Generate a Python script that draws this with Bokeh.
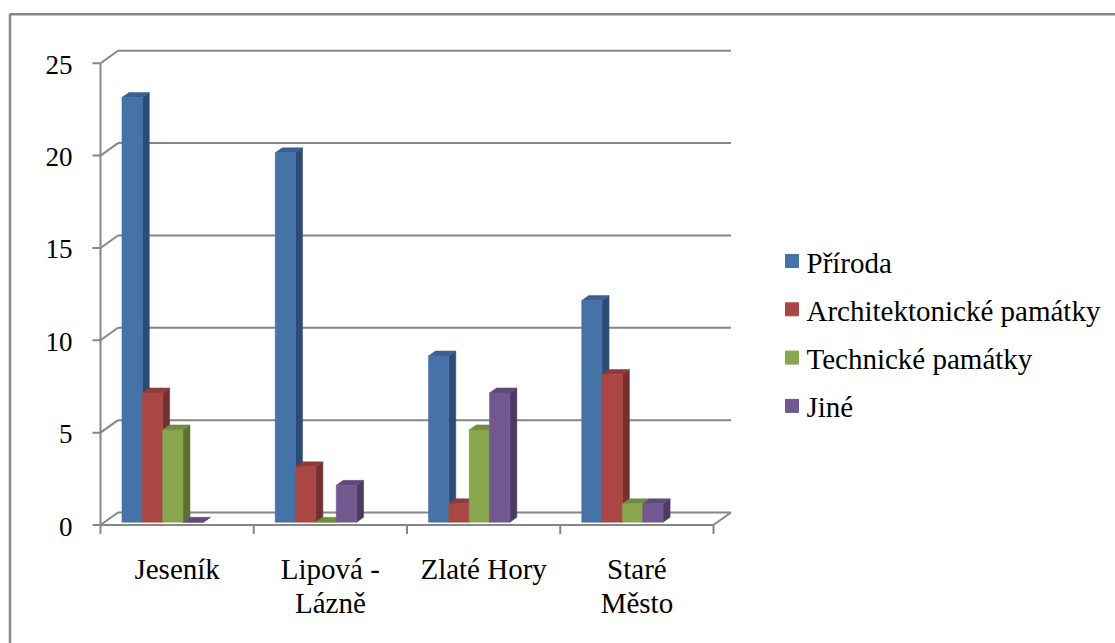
from bokeh.plotting import figure
from bokeh.models import Range1d, ColumnDataSource
from bokeh.core.properties import value
from bokeh.embed import file_html
from bokeh.resources import INLINE

# ---------------- data ----------------
categories = ["Jeseník", "Lipová -\nLázně", "Zlaté Hory", "Staré\nMěsto"]
series_names = ["Příroda", "Architektonické památky", "Technické památky", "Jiné"]
priroda = [23, 20, 9, 12]
architektonicke = [7, 3, 1, 8]
technicke = [5, 0, 5, 1]
jine = [0, 2, 7, 1]
y_ticks = [0, 5, 10, 15, 20, 25]
y_tick_labels = ["0", "5", "10", "15", "20", "25"]

series_values = [priroda, architektonicke, technicke, jine]

# ---------------- styles ----------------
front_colors = ["#4572A7", "#AA4643", "#89A54E", "#71588F"]
side_colors = ["#2D4C74", "#74302E", "#5C7034", "#4C3B61"]
top_colors = ["#3A6090", "#8F3B39", "#728A42", "#5F4A79"]
GRID = "#868686"
FONT = "Liberation Serif"

W, H = 1115, 643
PAGE = 0                 # observed page offset
SX = 153.25              # px per category unit
SY = 18.47               # px per value unit
AX_X = 100               # page x of front value axis
AX_Y = 524.5             # page y of value 0 (front)


def dx(px):
    return px / SX


def dy(px):
    return px / SY


DEPTH_X = dx(17.5)
DEPTH_Y = dy(12.5)


def proj(x, y, d):
    return x + d * DEPTH_X, y + d * DEPTH_Y


n_cat = len(categories)
y_max = y_ticks[-1]

p = figure(width=W, height=H, output_backend="svg", toolbar_location=None,
           x_axis_location=None, y_axis_location=None, min_border=0,
           x_range=Range1d((PAGE - AX_X) / SX, (PAGE + W - AX_X) / SX),
           y_range=Range1d((AX_Y - (PAGE + H)) / SY, (AX_Y - PAGE) / SY))
p.grid.visible = False
p.outline_line_color = None
p.background_fill_color = "white"
p.border_fill_color = "white"

# outer chart border (left and top visible)
bl = (9.5 - AX_X) / SX
bt = (AX_Y - 13.7) / SY
p.line([bl, bl, p.x_range.end + 1], [p.y_range.start - 1, bt, bt],
       line_color=GRID, line_width=2.5)

# ---------------- walls / gridlines ----------------
gx0, gx1, gy0, gy1 = [], [], [], []
for t in y_ticks:
    a = proj(0, t, 1)
    b = proj(n_cat, t, 1)
    gx0.append(a[0]); gy0.append(a[1]); gx1.append(b[0]); gy1.append(b[1])
    c = proj(0, t, 0)
    gx0.append(c[0]); gy0.append(c[1]); gx1.append(a[0]); gy1.append(a[1])
    gx0.append(-dx(8)); gy0.append(t); gx1.append(0); gy1.append(t)
gx0.append(0); gy0.append(0); gx1.append(0); gy1.append(y_max)
gx0.append(0); gy0.append(0); gx1.append(n_cat); gy1.append(0)
r = proj(n_cat, 0, 1)
gx0.append(n_cat); gy0.append(0); gx1.append(r[0]); gy1.append(r[1])
for i in range(n_cat + 1):
    gx0.append(i); gy0.append(0); gx1.append(i); gy1.append(-dy(9))
p.segment(gx0, gy0, gx1, gy1, line_color=GRID, line_width=2)

# ---------------- 3D bars ----------------
D0, D1 = 0.22, 0.62
OFF = dx(17.6)
BW = dx(20.35)

front = dict(left=[], right=[], bottom=[], top=[], color=[])
sides = dict(xs=[], ys=[], color=[])
tops = dict(xs=[], ys=[], color=[])
for i in range(n_cat):
    for s, vals in enumerate(series_values):
        v = vals[i]
        xl = i + OFF + s * BW
        xr = xl + BW
        fl = proj(xl, 0, D0)
        fr = proj(xr, v, D0)
        front["left"].append(fl[0]); front["right"].append(fr[0])
        front["bottom"].append(fl[1]); front["top"].append(fr[1])
        front["color"].append(front_colors[s])
        pts = [proj(xr, 0, D0), proj(xr, 0, D1), proj(xr, v, D1), proj(xr, v, D0)]
        sides["xs"].append([q[0] for q in pts]); sides["ys"].append([q[1] for q in pts])
        sides["color"].append(side_colors[s])
        pts = [proj(xl, v, D0), proj(xr, v, D0), proj(xr, v, D1), proj(xl, v, D1)]
        tops["xs"].append([q[0] for q in pts]); tops["ys"].append([q[1] for q in pts])
        tops["color"].append(top_colors[s])

p.patches("xs", "ys", source=ColumnDataSource(sides), fill_color="color",
          line_color="color", line_width=0.5)
p.patches("xs", "ys", source=ColumnDataSource(tops), fill_color="color",
          line_color="color", line_width=0.5)
p.quad(left="left", right="right", bottom="bottom", top="top",
       source=ColumnDataSource(front), fill_color="color", line_color="color",
       line_width=0.5)

# ---------------- value tick labels ----------------
p.text(x=[-dx(28)] * len(y_ticks), y=[t - dy(1.5) for t in y_ticks],
       text=y_tick_labels, text_align="right", text_baseline="middle",
       text_font=value(FONT), text_font_size="27px", text_color="black")

# ---------------- category labels ----------------
lx, ly, lt = [], [], []
for i, c in enumerate(categories):
    for k, line in enumerate(c.split("\n")):
        lx.append(i + 0.5)
        ly.append(-dy(43.5 + 34 * k))
        lt.append(line)
p.text(x=lx, y=ly, text=lt, text_align="center", text_baseline="middle",
       text_font=value(FONT), text_font_size="29px", text_color="black")

# ---------------- legend ----------------
leg_x = (791.5 - AX_X) / SX
leg_tx = (806 - AX_X) / SX
leg_y = [(AX_Y - (260.5 + 48.3 * k)) / SY for k in range(len(series_names))]
p.scatter(x=[leg_x] * len(series_names), y=leg_y, marker="square", size=13,
          fill_color=front_colors, line_color=front_colors)
p.text(x=[leg_tx] * len(series_names), y=[y - dy(1.5) for y in leg_y],
       text=series_names, text_align="left", text_baseline="middle",
       text_font=value(FONT), text_font_size="29px", text_color="black")

open("out.html", "w").write(file_html(p, INLINE))
